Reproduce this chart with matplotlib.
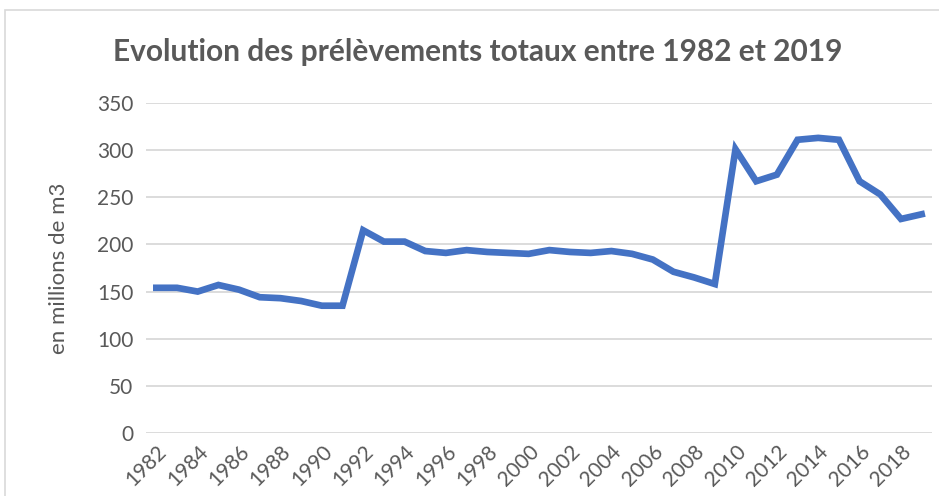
import matplotlib.pyplot as plt
from matplotlib.patches import Rectangle

years = list(range(1982, 2020))
prelevements = [154, 154, 150, 157, 152, 144, 143, 140, 135, 135,
                215, 203, 203, 193, 191, 194, 192, 191, 190, 194,
                192, 191, 193, 190, 184, 171, 165, 158, 301, 267,
                274, 311, 313, 311, 267, 253, 227, 232]
yticks = [0, 50, 100, 150, 200, 250, 300, 350]

plt.rcParams['font.family'] = ['Lato', 'DejaVu Sans']

W, H = 939, 496
fig = plt.figure(figsize=(W / 100, H / 100), dpi=100)
fig.patches.append(Rectangle((5 / W, -0.1), 1.1, 1.1 - 10 / H, transform=fig.transFigure,
                             fill=False, edgecolor='#D9D9D9', linewidth=1.2))

ax = fig.add_axes([146 / W, (H - 433) / H, (932 - 146) / W, (433 - 103) / H])
ax.plot(years, prelevements, color='#4472C4', linewidth=4.8, solid_joinstyle='miter')

ax.set_xlim(1981.5, 2019.5)
ax.set_ylim(0, 350)
ax.set_yticks(yticks)
ax.set_xticks(years[::2])
ax.set_xticklabels([str(y) for y in years[::2]], rotation=45, ha='right', va='top',
                   rotation_mode='anchor')
ax.tick_params(axis='both', length=0, labelsize=15, colors='#595959')
ax.tick_params(axis='y', pad=9)
ax.tick_params(axis='x', pad=6)
ax.grid(axis='y', color='#D9D9D9', linewidth=1.3)
ax.set_axisbelow(True)
for s in ax.spines.values():
    s.set_visible(False)

ax.set_ylabel('en millions de m3', fontsize=16, color='#595959', labelpad=20)
fig.text(478 / W, 1 - 52 / H, 'Evolution des prélèvements totaux entre 1982 et 2019',
         ha='center', va='center', fontsize=21.5, fontweight='bold', color='#595959')

fig.savefig('out.png', dpi=100)
